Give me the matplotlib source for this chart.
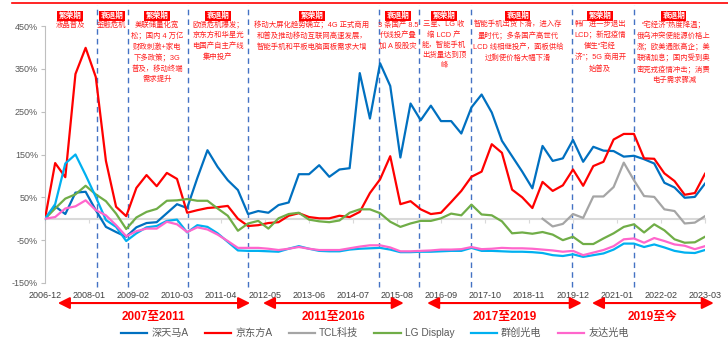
import numpy as np
import matplotlib.pyplot as plt
from matplotlib.lines import Line2D

plt.rcParams['font.family'] = ['Liberation Sans', 'Noto Sans CJK SC']

# 季度数据：2006-12 至 2023-03，相对 2006-12 的累计涨跌幅（%）
tick_labels = ['2006-12', '2008-01', '2009-02', '2010-03', '2011-04', '2012-05',
               '2013-06', '2014-07', '2015-08', '2016-09', '2017-10', '2018-11',
               '2019-12', '2021-01', '2022-02', '2023-03']

tianma = [0, 29, 11, 61, 63, 20, -19, -31, -42, -20, -10, -8, 13, 34, 25, 95,
          160, 121, 90, 67, 11, 18, 14, 32, 38, 104, 104, 125, 98, 115, 118, 340,
          234, 363, 310, 143, 269, 230, 264, 228, 228, 199, 260, 290, 248, 182,
          146, 110, 71, 170, 135, 141, 184, 133, 168, 159, 158, 145, 147, 139,
          129, 84, 73, 49, 51, 82]
boe = [0, 130, 97, 338, 399, 331, 135, 28, 6, 72, 102, 76, 107, 93, 14, 20,
       25, 27, 30, 0, -17, -15, -10, -8, 7, 13, 4, 1, 1, 7, 4, 16,
       60, 92, 146, 34, 41, 22, 11, 14, 39, 65, 98, 110, 174, 154,
       68, 50, 25, 86, 65, 78, 115, 77, 123, 133, 185, 198, 198, 141,
       140, 106, 88, 56, 60, 105]
tcl = [np.nan] * 49 + [0, -18, -12, 11, 2, 52, 52, 74, 131, 90, 53, 51, 22, 18,
                       -11, -9, 6]
lgd = [0, 24, 47, 57, 77, 57, 41, 12, -24, 3, 16, 23, 42, 43, 46, 42,
       42, 24, 7, -28, -11, -5, -23, 1, 11, 14, -2, -6, -8, -4, 14, 22,
       22, 13, -7, -19, -11, -5, -5, 1, 12, 8, 33, 10, 8, -6,
       -34, -32, -35, -31, -37, -50, -42, -59, -59, -46, -34, -19, -13, -32,
       -13, -27, -48, -56, -55, -42]
innolux = [0, 34, 129, 150, 102, 51, -3, -19, -52, -34, -20, -17, -5, -2, -32, -15,
           -19, -34, -54, -74, -75, -75, -76, -77, -70, -64, -70, -75, -76, -76, -72, -70,
           -69, -68, -72, -78, -78, -77, -77, -76, -75, -75, -68, -75, -75, -76,
           -77, -77, -78, -80, -85, -87, -83, -89, -85, -81, -72, -58, -58, -66,
           -60, -67, -75, -79, -80, -73]
auo = [0, 4, 24, 29, 43, 20, 8, -15, -41, -29, -23, -23, -7, -13, -31, -20,
       -25, -37, -52, -68, -68, -68, -70, -73, -70, -66, -70, -73, -73, -73, -69, -65,
       -62, -62, -67, -76, -76, -75, -74, -72, -72, -71, -66, -71, -70, -68,
       -69, -69, -70, -72, -74, -77, -75, -85, -79, -73, -64, -48, -46, -56,
       -45, -52, -60, -63, -71, -64]

series_names = ['深天马A', '京东方A', 'TCL科技', 'LG Display', '群创光电', '友达光电']
series_colors = ['#0070C0', '#FF0000', '#A5A5A5', '#70AD47', '#00B0F0', '#FF66CC']

# 周期划分（距 2006-12 的月数）
period_tags = ['繁荣期', '衰退期', '繁荣期', '衰退期', '繁荣期',
               '衰退期', '繁荣期', '衰退期', '繁荣期', '衰退期']
period_notes = [
    '液晶普及',
    '金融危机',
    '美联储量化宽\n松；国内 4 万亿\n财政刺激+家电\n下多政策；3G\n普及，移动终端\n需求提升',
    '欧债危机爆发；\n京东方和华星光\n电国产自主产线\n集中投产',
    '移动大屏化趋势确立；4G 正式商用\n和普及推动移动互联网高速发展，\n智能手机和平板电脑面板需求大增',
    '3 条国产 8.5\n代线投产叠\n加 A 股股灾',
    '三星、LG 收\n缩 LCD 产\n能，智能手机\n出货量达到顶\n峰',
    '智能手机出货下滑，进入存\n量时代；多条国产高世代\nLCD 线相继投产，面板供给\n过剩使价格大幅下滑',
    '韩厂进一步退出\nLCD；新冠疫情\n催生“宅经\n济”；5G 商用开\n始普及',
    '“宅经济”热度降温；\n俄乌冲突使能源价格上\n涨；欧美通胀高企；美\n联储加息；国内受到奥\n密克戎疫情冲击；消费\n电子需求骤减',
]
period_centers = [7.4, 19.8, 33.1, 51.1, 78.9, 104.3, 117.9, 139.7, 164, 185.8]
dividers = [15.4, 24.5, 42.2, 60, 98.7, 110.5, 125.8, 155.7, 174]

stage_labels = ['2007至2011', '2011至2016', '2017至2019', '2019至今']
stage_spans = [(3.8, 60.6), (64.4, 106), (112.9, 158.6), (161.6, 197.6)]

months = np.arange(len(tianma)) * 3
tick_pos = np.arange(len(tick_labels)) * 13

fig = plt.figure(figsize=(7.28, 3.52), dpi=100)
ax = fig.add_axes([45 / 728, 69 / 352, 660 / 728, 257 / 352])

for vals, name, col in zip([tianma, boe, tcl, lgd, innolux, auo], series_names, series_colors):
    ax.plot(months, vals, color=col, lw=1.6, label=name, zorder=3)

ax.set_xlim(0, 195)
ax.set_ylim(-150, 450)
ax.set_yticks([-150, -50, 50, 150, 250, 350, 450])
ax.set_yticklabels([f'{v}%' for v in [-150, -50, 50, 150, 250, 350, 450]])
ax.tick_params(axis='y', length=3, color='#BFBFBF', labelsize=6.5, labelcolor='#595959', pad=2)

for s in ['top', 'right']:
    ax.spines[s].set_visible(False)
ax.spines['left'].set_color('#BFBFBF')
ax.spines['bottom'].set_position(('data', 0))
ax.spines['bottom'].set_color('#D9D9D9')
ax.spines['bottom'].set_linewidth(1.5)
ax.set_xticks(tick_pos)
ax.tick_params(axis='x', length=3, color='#D9D9D9', labelbottom=False)

sec = ax.secondary_xaxis('bottom')
sec.set_xticks(tick_pos, tick_labels)
sec.tick_params(length=0, pad=6, labelsize=6.5, labelcolor='#404040')
sec.spines['bottom'].set_visible(False)

# 周期分隔线
for m in dividers:
    ax.axvline(m, ymin=-0.016, ymax=1.082, clip_on=False, color='#4472C4',
               ls=(0, (4, 3)), lw=1, zorder=1)

# 周期说明
xt = ax.get_xaxis_transform()
for xc, tag, note in zip(period_centers, period_tags, period_notes):
    ax.text(xc, 1.04, tag, transform=xt, ha='center', va='center', fontsize=5.5,
            fontweight='bold', color='white',
            bbox=dict(boxstyle='square,pad=0.15', fc='#FF0000', ec='none'))
    ax.text(xc, 1.02, note, transform=xt, ha='center', va='top', fontsize=5.3,
            color='#FF2020', linespacing=1.55)

# 底部阶段箭头
for (a, b), lab in zip(stage_spans, stage_labels):
    ax.annotate('', xy=(a, -0.078), xytext=(b, -0.078), xycoords=xt, textcoords=xt,
                arrowprops=dict(arrowstyle='<|-|>,head_length=0.7,head_width=0.35',
                                color='#FF0000', lw=1.5, shrinkA=0, shrinkB=0),
                annotation_clip=False)
    ax.text((a + b) / 2, -0.133, lab, transform=xt, ha='center', va='center',
            fontsize=8.5, fontweight='bold', color='#FF0000')

fig.add_artist(Line2D([12 / 728, 1], [0.991, 0.991], color='#FF0000', lw=1.2))

fig.legend(loc='center', bbox_to_anchor=(0.515, 0.054), ncol=6, frameon=False,
           fontsize=7.3, handlelength=2.6, columnspacing=1.6, handletextpad=0.4,
           labelcolor='#595959')

fig.savefig('out.png', dpi=100)
